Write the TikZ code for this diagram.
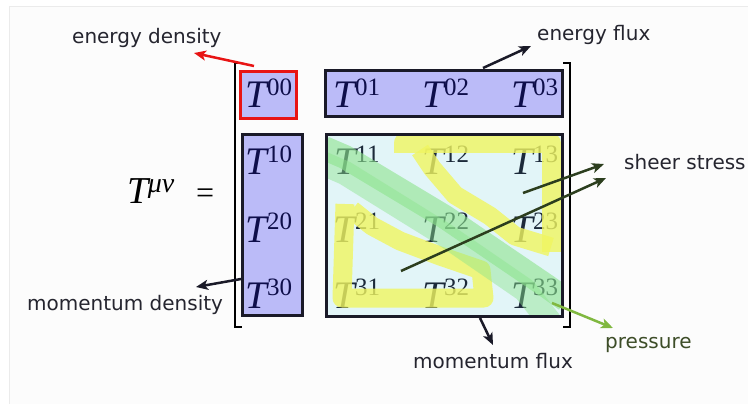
\documentclass[tikz,border=0pt]{standalone}
\usepackage{fontspec}
\setmainfont{Liberation Serif}
\newfontfamily\labfont{DejaVu Sans}
\usetikzlibrary{arrows.meta}
\definecolor{navyT}{HTML}{0E0E4A}
\definecolor{slateT}{HTML}{1C2A3A}
\definecolor{boxblue}{HTML}{BBBBF8}
\definecolor{boxcyan}{HTML}{E2F5F8}
\definecolor{edgec}{HTML}{1A1A28}
\definecolor{redc}{HTML}{E81414}
\definecolor{labc}{HTML}{25252F}
\definecolor{sheerc}{HTML}{2C3E1E}
\definecolor{pressc}{HTML}{80B840}
\definecolor{presstxt}{HTML}{3D4D28}
\definecolor{hlyellow}{HTML}{F0F560}
\definecolor{hlgreen}{HTML}{8DE48D}
\definecolor{framec}{HTML}{EBEBEB}
\definecolor{bgin}{HTML}{FCFCFC}
\newcommand\tcell[1]{{\fontsize{39}{39}\selectfont\itshape T}\kern-0.5pt\raisebox{13pt}{\fontsize{25}{25}\selectfont #1}}
\begin{document}
\begin{tikzpicture}[x=1pt,y=-1pt,
  tnode/.style={anchor=base,inner sep=0pt,text=navyT},
  tnodein/.style={anchor=base,inner sep=0pt,text=slateT},
  lab/.style={anchor=base west,inner sep=0pt,font=\labfont\fontsize{20}{20}\selectfont,text=labc},
  arr/.style={line width=2.5pt,-{Stealth[length=12pt,width=10pt,inset=3pt]}},
  hly/.style={draw=hlyellow,line width=19pt,opacity=0.8,line join=round,line cap=butt},
  hlgA/.style={draw=hlgreen,line width=24pt,opacity=0.6,line join=round,line cap=butt},
  hlgB/.style={draw=hlgreen,line width=24pt,opacity=0.45,line join=round,line cap=butt},
  brk/.style={draw=black,line width=2pt}]
\useasboundingbox (0,0) rectangle (748,404);
\fill[white] (0,0) rectangle (748,404);
\fill[bgin] (9,7) rectangle (748,404);
\draw[framec,line width=1pt] (9,404) -- (9,7) -- (748,7);
% box fills
\fill[boxblue] (240.5,71.5) rectangle (296.5,118.5);
\fill[boxblue] (325.5,70.5) rectangle (562.5,116.5);
\fill[boxblue] (242.5,134.5) rectangle (302.5,315.5);
\fill[boxcyan] (326.5,134.5) rectangle (562.5,316.5);
% entries
\node[tnode] (t00) at (269,108) {\tcell{00}};
\node[tnode] (t01) at (357,108) {\tcell{01}};
\node[tnode] (t02) at (446,108) {\tcell{02}};
\node[tnode] (t03) at (535,108) {\tcell{03}};
\node[tnode] (t10) at (269,175) {\tcell{10}};
\node[tnode] (t20) at (269,242) {\tcell{20}};
\node[tnode] (t30) at (269,308) {\tcell{30}};
\node[tnodein] (t11) at (357,175) {\tcell{11}};
\node[tnodein] (t12) at (446,175) {\tcell{12}};
\node[tnodein] (t13) at (535,175) {\tcell{13}};
\node[tnodein] (t21) at (357,242) {\tcell{21}};
\node[tnodein] (t22) at (446,242) {\tcell{22}};
\node[tnodein] (t23) at (535,242) {\tcell{23}};
\node[tnodein] (t31) at (357,308) {\tcell{31}};
\node[tnodein] (t32) at (446,308) {\tcell{32}};
\node[tnodein] (t33) at (535,308) {\tcell{33}};
% highlights
\begin{scope}
\clip (326.5,134.5) rectangle (563.5,317.5);
\draw[hly] (403,153) -- (403,143) -- (551,143) -- (551,252);
\draw[hly] (420,150) -- (432,168) -- (455,195) -- (490,216) -- (515,236) -- (551,247);
\draw[hly] (345,204) -- (342,298) -- (484,298) -- (481,270) -- (440,256) -- (400,241) -- (372,226) -- (352,210);
\draw[hlgA] (324,148) -- (345,157) -- (445,217) -- (548,287) -- (566,300);
\draw[hlgB] (322,163) -- (345,173) -- (445,235) -- (525,290) -- (550,322);
\end{scope}
% box borders
\draw[redc,line width=3pt] (240.5,71.5) rectangle (296.5,118.5);
\draw[edgec,line width=3pt] (325.5,70.5) rectangle (562.5,116.5);
\draw[edgec,line width=3pt] (242.5,134.5) rectangle (302.5,315.5);
\draw[edgec,line width=3pt] (326.5,134.5) rectangle (562.5,316.5);
% brackets
\draw[brk] (242,63) -- (235,63) -- (235,327) -- (242,327);
\draw[brk] (563,63) -- (570,63) -- (570,327) -- (563,327);
% left side
\node[anchor=base west,inner sep=0pt] (tmn) at (127,203)
  {{\fontsize{38}{38}\selectfont\itshape T}\kern-0.5pt\raisebox{11pt}{\fontsize{28}{28}\selectfont\itshape μν}};
\node[anchor=base west,inner sep=0pt] (eq) at (196,203) {\fontsize{32}{32}\selectfont =};
% labels
\node[lab] (ed) at (72,44) {energy density};
\node[lab] (ef) at (537,41) {energy flux};
\node[lab] (ss) at (624,169) {sheer stress};
\node[lab] (md) at (27,310) {momentum density};
\node[lab] (mf) at (413,368) {momentum flux};
\node[lab,text=presstxt] (pr) at (605,348) {pressure};
% arrow endpoints
\coordinate (edS) at (254,66);  \coordinate (edE) at (194,53);
\coordinate (efS) at (483,68);  \coordinate (efE) at (531,46);
\coordinate (mdS) at (241,279); \coordinate (mdE) at (196,287);
\coordinate (mfS) at (480,318); \coordinate (mfE) at (493,345);
\coordinate (s1S) at (523,193); \coordinate (s1E) at (604,164);
\coordinate (s2S) at (401,271); \coordinate (s2E) at (606,178);
\coordinate (prS) at (552,303); \coordinate (prE) at (613,328);
\draw[arr,redc] (edS) -- (edE);
\draw[arr,edgec] (efS) -- (efE);
\draw[arr,edgec] (mdS) -- (mdE);
\draw[arr,edgec] (mfS) -- (mfE);
\draw[arr,sheerc] (s1S) -- (s1E);
\draw[arr,sheerc] (s2S) -- (s2E);
\draw[arr,pressc] (prS) -- (prE);
\end{tikzpicture}
\end{document}
